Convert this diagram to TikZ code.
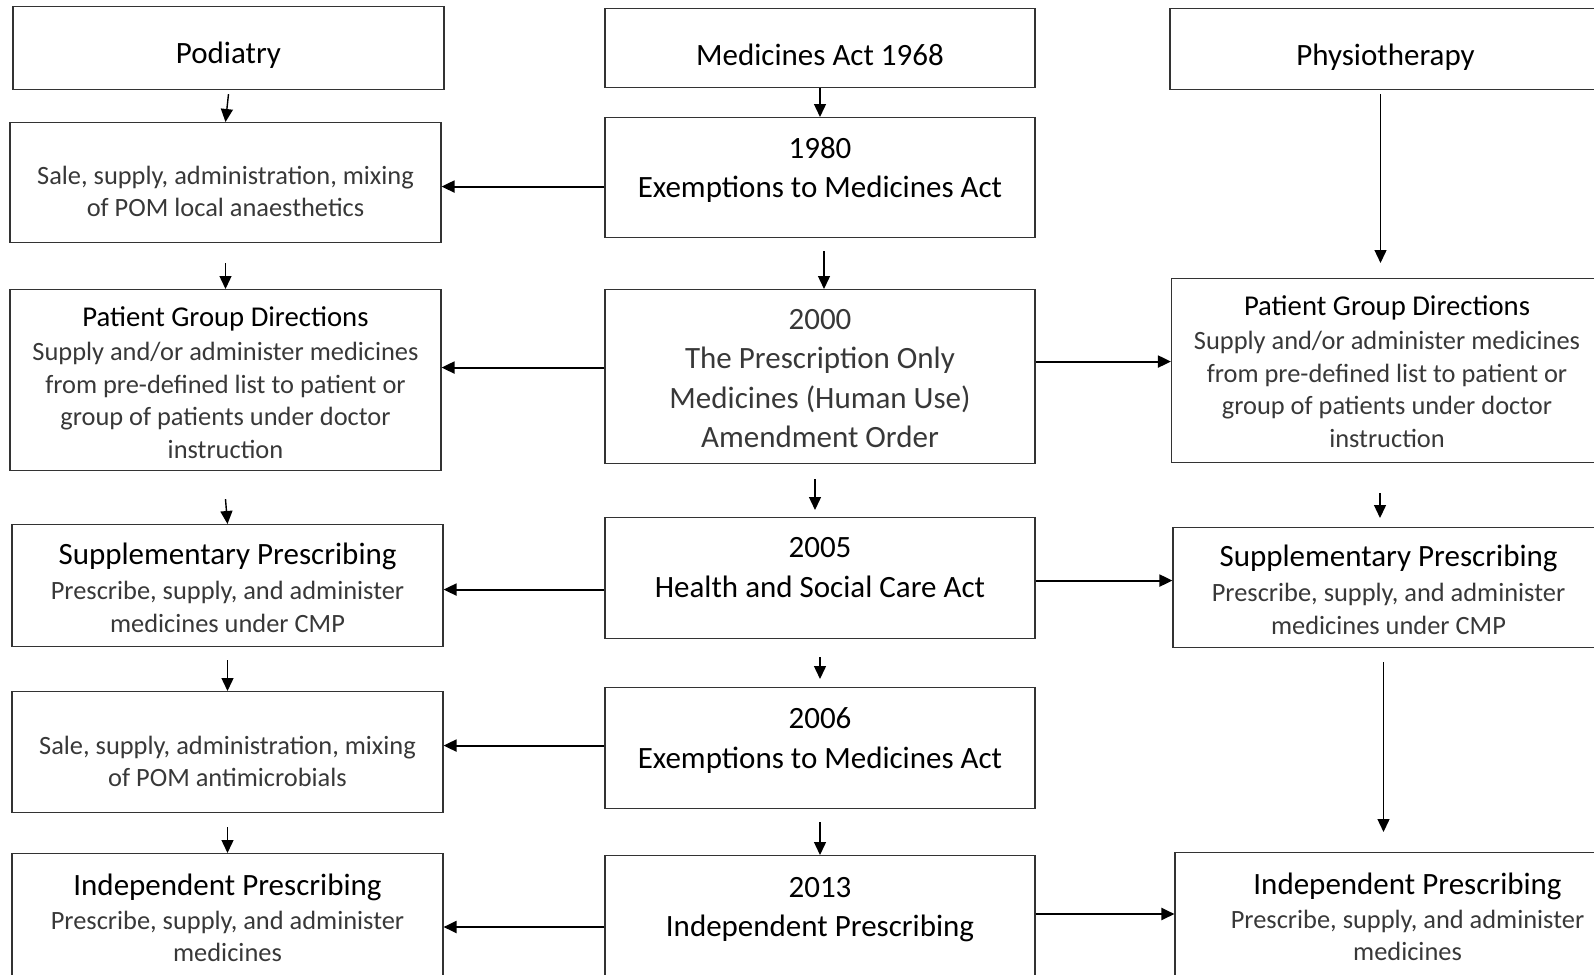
\documentclass[tikz,border=0pt]{standalone}
\usepackage{fontspec}
\setmainfont{Carlito}
\usetikzlibrary{arrows.meta,calc}
\definecolor{lite}{gray}{0.22}
\newcommand{\hd}[1]{{\fontsize{31}{36}\selectfont\color{black}#1}}
\newcommand{\pgdhd}[1]{{\fontsize{28.7}{32}\selectfont\color{black}#1}}

\begin{document}
\begin{tikzpicture}[x=1pt,y=-1pt,
  lb/.style={text height=#1, text depth=0pt},
  box/.style={draw=black!80, line width=1.1pt, anchor=north, align=center, inner xsep=4pt, inner ysep=2pt},
  sbox/.style={box, minimum width=431pt, text=lite, font=\fontsize{26.4}{32.5}\selectfont},
  cbox/.style={box, minimum width=430pt, font=\fontsize{31}{39.5}\selectfont},
  topbox/.style={box, minimum width=431pt, font=\fontsize{31}{36}\selectfont},
  lastrow/.style={text height=#1, text depth=100pt},
  sig/.style={-{Triangle[length=13pt,width=12pt]}, line width=1.4pt},
  hsig/.style={sig, line width=2pt}]
\path[use as bounding box, clip] (0,0) rectangle (1594,974);
% column heads
\node[topbox, minimum height=83pt, lb=31pt] (pod) at (228.5,6) {Podiatry};
\node[topbox, minimum width=430pt, minimum height=79pt, lb=35pt] (act) at (820,8) {Medicines Act 1968};
\node[topbox, minimum height=81pt, lb=33pt] (physio) at (1385.5,8) {Physiotherapy};
% podiatry column
\node[sbox, minimum height=120pt, lb=68pt] (sale1) at (225.5,122) {Sale, supply, administration, mixing\\of POM local anaesthetics};
\node[sbox, minimum height=181pt, lb=156.8pt] (pgdl) at (225.5,289) {\pgdhd{Patient Group Directions}\\[1.5pt]
  Supply and/or administer medicines\\from pre-defined list to patient or\\group of patients under doctor\\instruction};
\node[sbox, minimum height=122pt, lb=93.6pt] (suppl) at (227.5,524) {\hd{Supplementary Prescribing}\\[3pt]
  Prescribe, supply, and administer\\medicines under CMP};
\node[sbox, minimum height=121pt, lb=69.6pt] (sale2) at (227.5,691) {Sale, supply, administration, mixing\\of POM antimicrobials};
\node[sbox, lastrow=106.2pt] (indl) at (227.5,853) {\hd{Independent Prescribing}\\[1.5pt]
  Prescribe, supply, and administer\\medicines};
% legislation column
\node[cbox, minimum height=120pt, lb=40.4pt] (c1980) at (820,117) {1980\\Exemptions to Medicines Act};
\node[cbox, minimum height=174pt, text=lite, lb=142.4pt] (c2000) at (820,289) {2000\\The Prescription Only\\Medicines (Human Use)\\Amendment Order};
\node[cbox, minimum height=121pt, lb=38.4pt] (c2005) at (820,517) {2005\\Health and Social Care Act};
\node[cbox, minimum height=121pt, lb=40pt] (c2006) at (820,687) {2006\\Exemptions to Medicines Act};
\node[cbox, lastrow=79.2pt] (c2013) at (820,855) {2013\\Independent Prescribing};
% physiotherapy column
\node[sbox, minimum height=184pt, lb=153.6pt] (pgdr) at (1387,278) {\pgdhd{Patient Group Directions}\\[1.5pt]
  Supply and/or administer medicines\\from pre-defined list to patient or\\group of patients under doctor\\instruction};
\node[sbox, minimum height=120pt, lb=93.6pt] (suppr) at (1388.5,527) {\hd{Supplementary Prescribing}\\[3pt]
  Prescribe, supply, and administer\\medicines under CMP};
\node[sbox, minimum width=465pt, lastrow=106.1pt] (indr) at (1407.5,852) {\hd{Independent Prescribing}\\[1.5pt]
  Prescribe, supply, and administer\\medicines};
% down the columns
\draw[sig] ([yshift=-4pt]pod.south) -- (sale1.north);
\draw[sig] ([yshift=-20pt]sale1.south) -- (pgdl.north);
\draw[sig] ([yshift=-28pt]pgdl.south) -- (suppl.north);
\draw[sig] ([yshift=-13pt]suppl.south) -- (sale2.north);
\draw[sig] ([yshift=-14pt]sale2.south) -- (indl.north);
\draw[sig] (act.south) -- (c1980.north);
\draw[sig] ([xshift=4pt,yshift=-13pt]c1980.south) -- ([xshift=4pt]c1980.south |- c2000.north);
\draw[sig] ([xshift=-5pt,yshift=-15pt]c2000.south) -- ([xshift=-5pt,yshift=7pt]c2000.south |- c2005.north);
\draw[sig] ([yshift=-18pt]c2005.south) -- ([yshift=8pt]c2006.north);
\draw[sig] ([yshift=-13pt]c2006.south) -- (c2013.north);
\draw[sig] ([xshift=-5pt,yshift=-4pt]physio.south) -- ([xshift=-5pt,yshift=15pt]physio.south |- pgdr.north);
\draw[sig] ([xshift=-7pt,yshift=-30pt]pgdr.south) -- ([xshift=-7pt,yshift=9pt]pgdr.south |- suppr.north);
\draw[sig] ([xshift=-5pt,yshift=-14pt]suppr.south) -- ([xshift=-5pt,yshift=20pt]suppr.south |- indr.north);
% across to the professions
\draw[hsig] ([yshift=-9pt]c1980.west) -- ([yshift=-9pt]c1980.west -| sale1.east);
\draw[hsig] ([yshift=9pt]c2000.west) -- ([yshift=9pt]c2000.west -| pgdl.east);
\draw[hsig] ([yshift=15pt]c2000.east) -- ([yshift=15pt]c2000.east -| pgdr.west);
\draw[hsig] ([yshift=-11.5pt]c2005.west) -- ([yshift=-11.5pt]c2005.west -| suppl.east);
\draw[hsig] ([yshift=-2.5pt]c2005.east) -- ([yshift=-2.5pt]c2005.east -| suppr.west);
\draw[hsig] ([yshift=2.5pt]c2006.west) -- ([yshift=2.5pt]c2006.west -| sale2.east);
\draw[hsig] ([yshift=-72pt]c2013.north west) -- ([yshift=-72pt]c2013.north west -| indl.east);
\draw[hsig] ([yshift=-59pt]c2013.north east) -- ([yshift=-59pt]c2013.north east -| indr.west);
\end{tikzpicture}
\end{document}
